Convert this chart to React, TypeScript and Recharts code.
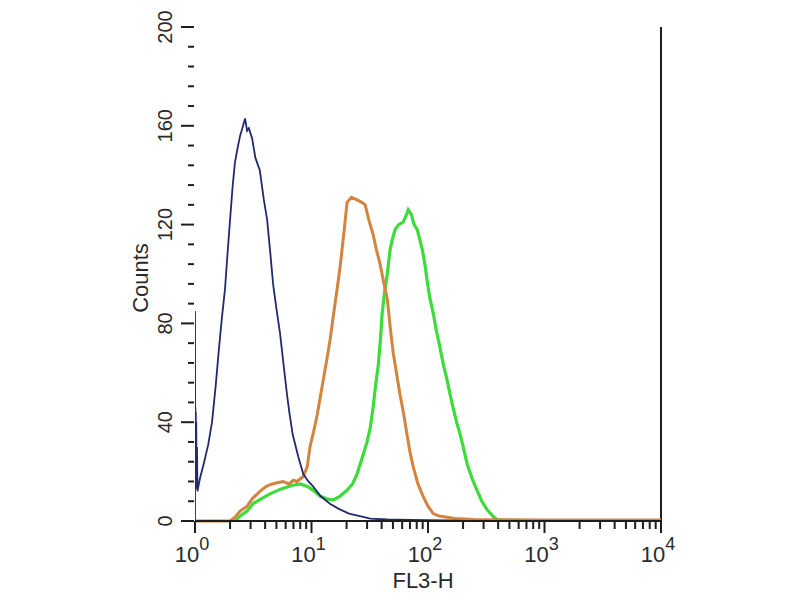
import { Label, Line, LineChart, ReferenceLine, XAxis, YAxis } from "recharts";

// [FL3-H, counts]
const isotype: [number, number][] = [
  [1, 0], [1, 85], [1.004, 30], [1.008, 46], [1.012, 18], [1.016, 44], [1.02, 14],
  [1.025, 40], [1.03, 13], [1.04, 30], [1.05, 12], [1.07, 14], [1.1, 17], [1.2, 24],
  [1.3, 31], [1.4, 40], [1.5, 54], [1.6, 69], [1.7, 82], [1.81, 94], [1.9, 108],
  [2.0, 122], [2.1, 135], [2.2, 145], [2.32, 151], [2.44, 156], [2.55, 159], [2.69, 163],
  [2.8, 158], [2.9, 159], [3.09, 155], [3.3, 147], [3.6, 142], [3.9, 130], [4.16, 122],
  [4.4, 110], [4.68, 96], [5.0, 86], [5.37, 76], [5.8, 62], [6.17, 51], [6.5, 43],
  [6.9, 35], [7.7, 26], [8.5, 19], [9.4, 16], [10.3, 14], [12, 10], [14.4, 7], [17, 5],
  [21, 3], [26, 2], [32, 1], [45, 0.6], [70, 0.4], [100, 0.3], [150, 0.2], [200, 0],
];

const sampleA: [number, number][] = [
  [1, 0], [1.5, 0], [2.0, 0], [2.2, 1.5], [2.44, 4], [2.8, 6], [3.1, 9], [3.6, 12],
  [4.1, 14], [4.6, 15], [5.06, 15.5], [5.7, 16], [6.4, 15], [7.0, 16.5], [7.5, 16],
  [8.5, 18], [9.2, 22], [9.7, 30], [10.4, 36], [11.2, 43], [12.6, 57], [13.5, 65],
  [14.4, 73], [15.5, 84], [16.6, 94], [17.5, 102], [18.3, 110], [19.3, 120], [20.2, 129],
  [22, 131], [24.6, 130], [27, 129], [28.9, 128], [31, 122], [33.8, 116], [36, 110],
  [38.8, 104], [41.5, 97], [44.7, 90], [47.5, 78], [50.3, 68], [54, 59], [57.6, 51],
  [62, 43], [66, 35], [70, 28], [74.6, 22], [82, 15], [90.8, 10], [100, 6], [111, 3],
  [125, 2], [146, 1.5], [170, 1], [250, 0.6], [500, 0.5], [1000, 0.4], [10000, 0.4],
];

const sampleB: [number, number][] = [
  [2.2, 0], [2.44, 2], [2.8, 4], [3.15, 7], [3.7, 9], [4.4, 11], [5.5, 13], [6.9, 14.5],
  [8, 15], [9.2, 14], [10.3, 12.5], [11.9, 10], [13.5, 9], [15.3, 8.5], [17.5, 10],
  [20.2, 12.5], [22.5, 15], [24.6, 19], [27, 25], [30, 32], [32, 38], [33.8, 46],
  [35.5, 55], [37.4, 63], [39, 73], [40.4, 84], [42.5, 93], [44.7, 100], [47.3, 110],
  [50, 115], [52.3, 118], [56, 120], [61.2, 121], [64, 123], [67.6, 126], [72, 124],
  [76, 120], [80.8, 118], [85, 114], [89.2, 110], [94, 104], [98.5, 97], [104, 90],
  [111, 84], [118, 77], [127, 70], [136, 63], [146, 57], [155, 51], [164, 46], [176, 40],
  [189, 35], [203, 29], [217, 23], [240, 17], [263, 12.5], [290, 8], [322, 4.5],
  [360, 2], [392, 0.5], [450, 0.3], [550, 0.2], [600, 0],
];

const decades = [1, 10, 100, 1000, 10000];
const yMajorTicks = [0, 40, 80, 120, 160, 200];
const yMinorStep = 8;

const xTicks = decades.flatMap((d, i) =>
  i === decades.length - 1 ? [d] : [1, 2, 3, 4, 5, 6, 7, 8, 9].map((k) => k * d)
);
const yTicks: number[] = [];
for (let v = 0; v <= 200; v += yMinorStep) yTicks.push(v);

const toRows = (pts: [number, number][]) => pts.map(([x, y]) => ({ x, y }));

const FONT = '"Liberation Sans", Arial, Helvetica, sans-serif';
const INK = "#1e1e1e";

function XTick(props: any) {
  const { x, y, payload } = props;
  const v = payload.value as number;
  const exp = Math.round(Math.log10(v));
  const major = Math.abs(v - Math.pow(10, exp)) < 1e-6;
  return (
    <g>
      <line x1={x} x2={x} y1={y} y2={y + (major ? 12 : 8)} stroke={INK} strokeWidth={2} />
      {major && (
        <text x={x - 3} y={y + 41} textAnchor="middle" fontSize={22} fill="#2a2a2a" fontFamily={FONT}>
          10
          <tspan dy={-12} fontSize={18}>
            {exp}
          </tspan>
        </text>
      )}
    </g>
  );
}

function YTick(props: any) {
  const { x, y, payload } = props;
  const v = payload.value as number;
  const major = yMajorTicks.includes(v);
  return (
    <g>
      <line x1={x - (major ? 14 : 7)} x2={x - 1} y1={y} y2={y} stroke={INK} strokeWidth={2} />
      {major && (
        <text
          x={x - 23}
          y={y}
          transform={`rotate(-90 ${x - 23} ${y})`}
          textAnchor="middle"
          fontSize={20}
          fill="#2a2a2a"
          fontFamily={FONT}
        >
          {v}
        </text>
      )}
    </g>
  );
}

export default function App() {
  return (
    <div style={{ position: "absolute", left: 0, top: 0, width: 800, height: 600, background: "#fff" }}>
      <LineChart width={800} height={600} margin={{ top: 27, right: 139, bottom: 0, left: 0 }}>
        <XAxis
          dataKey="x"
          type="number"
          scale="log"
          domain={[1, 10000]}
          ticks={xTicks}
          interval={0}
          allowDataOverflow
          height={79}
          tickSize={0}
          tickMargin={0}
          tickLine={false}
          axisLine={{ stroke: INK, strokeWidth: 2 }}
          tick={(p: any) => <XTick {...p} />}
        >
          <Label
            content={(p: any) => {
              const vb = p.viewBox;
              return (
                <text
                  x={vb.x + vb.width / 2 - 5}
                  y={vb.y + 67}
                  textAnchor="middle"
                  fontSize={22}
                  fill="#2a2a2a"
                  fontFamily={FONT}
                >
                  FL3-H
                </text>
              );
            }}
          />
        </XAxis>
        <YAxis
          type="number"
          domain={[0, 200]}
          ticks={yTicks}
          interval={0}
          width={195}
          tickSize={0}
          tickMargin={0}
          tickLine={false}
          axisLine={false}
          tick={(p: any) => <YTick {...p} />}
        >
          <Label
            content={(p: any) => {
              const vb = p.viewBox;
              const lx = vb.x + vb.width - 47;
              const ly = vb.y + vb.height / 2 + 4;
              return (
                <text
                  x={lx}
                  y={ly}
                  transform={`rotate(-90 ${lx} ${ly})`}
                  textAnchor="middle"
                  fontSize={22}
                  fill="#2a2a2a"
                  fontFamily={FONT}
                >
                  Counts
                </text>
              );
            }}
          />
        </YAxis>
        <ReferenceLine x={10000} stroke={INK} strokeWidth={2} />
        <Line
          data={toRows(sampleB)}
          dataKey="y"
          type="linear"
          stroke="#3ddc3a"
          strokeWidth={3.2}
          dot={false}
          isAnimationActive={false}
        />
        <Line
          data={toRows(sampleA)}
          dataKey="y"
          type="linear"
          stroke="#d4843e"
          strokeWidth={3}
          dot={false}
          isAnimationActive={false}
        />
        <Line
          data={toRows(isotype)}
          dataKey="y"
          type="linear"
          stroke="#222a6e"
          strokeWidth={1.8}
          dot={false}
          isAnimationActive={false}
        />
      </LineChart>
    </div>
  );
}
